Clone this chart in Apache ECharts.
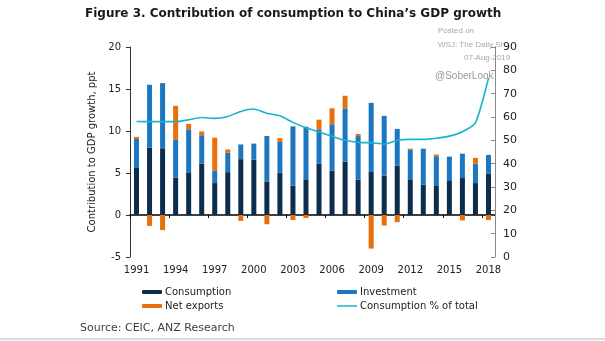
<!DOCTYPE html>
<html>
<head>
<meta charset="utf-8">
<script src="https://cdn.jsdelivr.net/npm/echarts@6/dist/echarts.min.js"></script>
<style>
html,body{margin:0;padding:0;background:#fff;}
#c{width:605px;height:341px;}
</style>
</head>
<body>
<div id="c"></div>
<script>
var years = ['1991','1992','1993','1994','1995','1996','1997','1998','1999','2000','2001','2002','2003','2004','2005','2006','2007','2008','2009','2010','2011','2012','2013','2014','2015','2016','2017','2018'];
var consumption = [5.6, 8.0, 7.95, 4.45, 5.0, 6.1, 3.8, 5.1, 6.65, 6.6, 4.0, 5.05, 3.5, 4.25, 6.1, 5.3, 6.35, 4.2, 5.2, 4.7, 5.9, 4.25, 3.6, 3.45, 4.05, 4.4, 3.8, 4.95];
var investment = [3.45, 7.5, 7.75, 4.55, 5.2, 3.4, 1.5, 2.3, 1.75, 1.9, 5.4, 3.65, 7.05, 6.25, 4.1, 5.5, 6.35, 5.2, 8.15, 7.1, 4.35, 3.5, 4.3, 3.55, 2.9, 2.9, 2.3, 2.2];
var netExports = [0.25, -1.3, -1.8, 4.0, 0.65, 0.45, 3.9, 0.4, -0.7, 0, -1.1, 0.45, -0.6, -0.35, 1.15, 1.9, 1.5, 0.25, -4.0, -1.25, -0.85, 0.15, 0, 0.2, 0, -0.65, 0.7, -0.6];
var consumptionShare = [58.1, 58.0, 58.0, 58.0, 58.8, 59.8, 59.4, 60.2, 62.4, 63.4, 61.6, 60.5, 57.7, 55.4, 53.6, 51.7, 50.0, 49.1, 49.0, 48.4, 50.0, 50.4, 50.4, 50.9, 51.8, 53.7, 57.5, 76.6];

var FONT = 'DejaVu Sans';
var chart = echarts.init(document.getElementById('c'), null, {renderer:'canvas'});
var lineIcon = 'path://M0,0 L40,0 L40,3 L0,3 Z';
var option = {
  animation: false,
  backgroundColor: '#fff',
  textStyle: {fontFamily: FONT},
  title: {
    text: 'Figure 3. Contribution of consumption to China\u2019s GDP growth',
    left: 80, top: 3,
    textStyle: {fontFamily: FONT, fontWeight: 'bold', fontSize: 12, color: '#1a1a1a'}
  },
  grid: {left: 130, right: 110, top: 47, bottom: 84, containLabel: false},
  legend: [
    {
      orient: 'vertical', left: 142, top: 287, padding: 0, itemWidth: 20, itemHeight: 4, itemGap: 4,
      symbolKeepAspect: true,
      data: ['Consumption', 'Net exports'],
      textStyle: {fontFamily: FONT, fontSize: 10, color: '#222', padding: [0,0,0,-2]}
    },
    {
      orient: 'vertical', left: 337, top: 287, padding: 0, itemWidth: 20, itemHeight: 4, itemGap: 4,
      symbolKeepAspect: true,
      data: ['Investment', {name: 'Consumption % of total', icon: lineIcon}],
      textStyle: {fontFamily: FONT, fontSize: 10, color: '#222', padding: [0,0,0,-2]}
    }
  ],
  xAxis: [
    {
      type: 'category', data: years, position: 'bottom', boundaryGap: true,
      axisLine: {show: false, onZero: false},
      axisTick: {show: false},
      axisLabel: {interval: 2, margin: 8, fontFamily: FONT, fontSize: 10, color: '#222'},
      splitLine: {show: false}
    },
    {
      type: 'category', data: years, position: 'top', boundaryGap: true,
      axisLine: {show: true, onZero: true, onZeroAxisIndex: 0, lineStyle: {color: '#000', width: 1.5}},
      axisTick: {show: true, interval: 2, inside: true, length: 3, lineStyle: {color: '#000'}},
      axisLabel: {show: false},
      splitLine: {show: false}
    }
  ],
  yAxis: [
    {
      type: 'value', min: -5, max: 20, interval: 5, position: 'left',
      name: 'Contribution to GDP growth, ppt', nameLocation: 'middle', nameGap: 23, nameRotate: 90,
      nameTextStyle: {fontFamily: FONT, fontSize: 10, color: '#222'},
      axisLine: {show: true, lineStyle: {color: '#333'}},
      axisTick: {show: true, length: 4, lineStyle: {color: '#333'}},
      axisLabel: {margin: 9, fontFamily: FONT, fontSize: 10, color: '#222'},
      splitLine: {show: false}
    },
    {
      type: 'value', min: 0, max: 90, interval: 10, position: 'right', z: 10,
      axisLine: {show: true, lineStyle: {color: '#888'}},
      axisTick: {show: true, inside: true, length: 4, lineStyle: {color: '#888'}},
      axisLabel: {margin: 8, fontFamily: FONT, fontSize: 11, color: '#222', backgroundColor: '#fff'},
      splitLine: {show: false}
    }
  ],
  series: [
    {name: 'Consumption', type: 'bar', stack: 'g', xAxisIndex: 0, yAxisIndex: 0, barWidth: 5,
     itemStyle: {color: '#0d2d4d'}, data: consumption},
    {name: 'Investment', type: 'bar', stack: 'g', xAxisIndex: 0, yAxisIndex: 0, barWidth: 5,
     itemStyle: {color: '#1c77c0'}, data: investment},
    {name: 'Net exports', type: 'bar', stack: 'g', xAxisIndex: 0, yAxisIndex: 0, barWidth: 5,
     itemStyle: {color: '#e8700c'}, data: netExports},
    {name: 'Consumption % of total', type: 'line', xAxisIndex: 0, yAxisIndex: 1, symbol: 'none',
     smooth: 0.2, z: 5,
     lineStyle: {color: '#17b5c9', width: 1.6}, itemStyle: {color: '#17b5c9'}, data: consumptionShare}
  ],
  graphic: [
    {type: 'text', left: 80, top: 323, z: 1,
     style: {text: 'Source: CEIC, ANZ Research', font: '11px "DejaVu Sans"', fill: '#404040'}},
    {type: 'text', left: 438, top: 27, z: 0,
     style: {text: 'Posted on', font: '8px "Liberation Sans"', fill: '#a8a8a8'}},
    {type: 'text', left: 438, top: 41, z: 0,
     style: {text: 'WSJ: The Daily Shot', font: '8px "Liberation Sans"', fill: '#a8a8a8'}},
    {type: 'text', left: 464, top: 54, z: 0,
     style: {text: '07-Aug-2019', font: '8px "Liberation Sans"', fill: '#a8a8a8'}},
    {type: 'text', left: 435, top: 71, z: 0,
     style: {text: '@SoberLook', font: '10px "Liberation Sans"', fill: '#9a9a9a'}},
    {type: 'line', z: 0, shape: {x1: 0, y1: 339, x2: 605, y2: 339}, style: {stroke: '#dcdcdc', lineWidth: 2}}
  ]
};
chart.setOption(option);
</script>
</body>
</html>
